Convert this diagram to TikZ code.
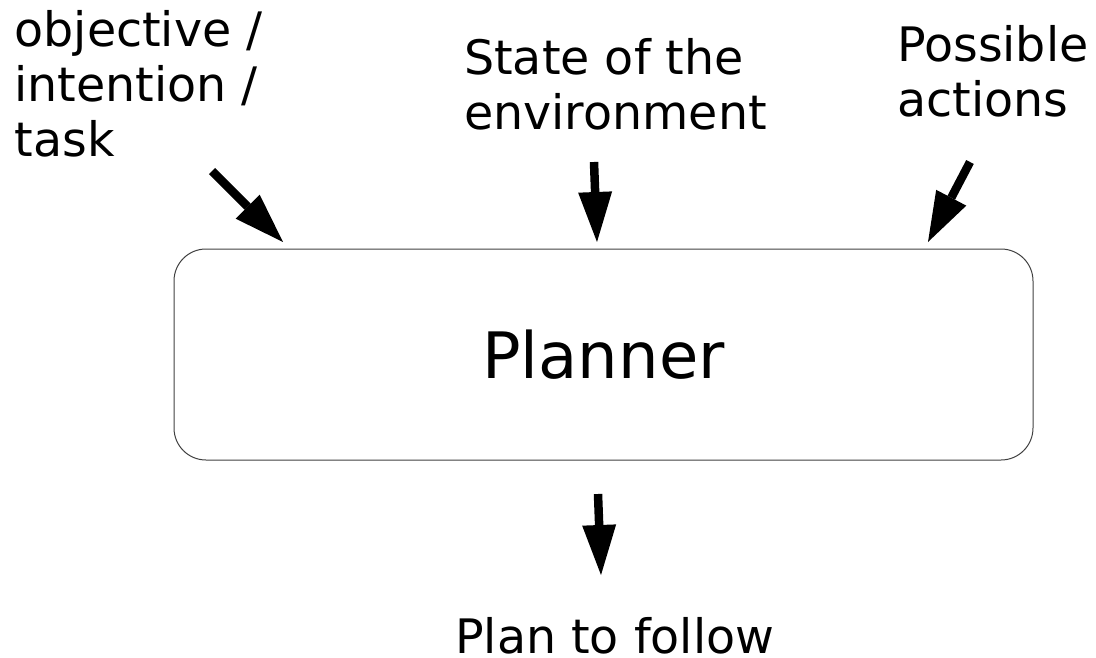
\documentclass[tikz,border=0pt]{standalone}
\usepackage{fontspec}
\setmainfont{DejaVu Sans}
\usetikzlibrary{arrows.meta}

\begin{document}
\begin{tikzpicture}[x=1pt,y=-1pt,
                    text node/.style={inner sep=0pt,anchor=base west,align=left,
                                      font=\fontsize{47.5}{55}\selectfont},
                    planner node/.style={draw=black!75,line width=1pt,rounded corners=32pt,
                                         minimum width=859pt,minimum height=211pt,
                                         font=\fontsize{64}{77}\selectfont},
                    flow/.style={line width=8.5pt,
                                 -{Triangle[length=50pt,width=34pt,line width=0pt]}}]
	\useasboundingbox (0,0) rectangle (1096,658);

	\node[planner node] (planner) at (603.5,354.5) {Planner};

	% base is the last line of each text
	\node[text node] (goal) at (14.4,157) {objective /\\intention /\\task};
	\node[text node] (state) at (464,130) {State of the\\environment};
	\node[text node] (actions) at (897,117) {Possible\\actions};
	\node[text node] (plan) at (455,653) {Plan to follow};

	% arrow ends
	\coordinate (goal in) at (212,171);
	\coordinate (goal tip) at (283,242);
	\coordinate (state in) at (594,162);
	\coordinate (state tip) at (597,242);
	\coordinate (actions in) at (970,162);
	\coordinate (actions tip) at (928,242);
	\coordinate (plan out) at (598,494);
	\coordinate (plan tip) at (601,575);

	\draw[flow] (goal in) -- (goal tip);
	\draw[flow] (state in) -- (state tip);
	\draw[flow] (actions in) -- (actions tip);
	\draw[flow] (plan out) -- (plan tip);
\end{tikzpicture}
\end{document}
